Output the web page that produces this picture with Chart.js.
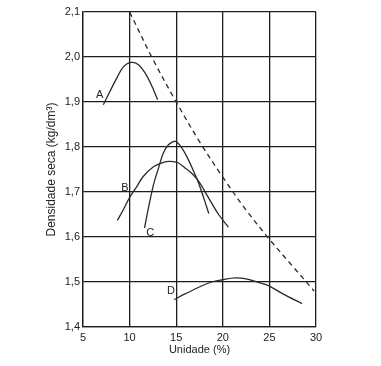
<!DOCTYPE html>
<html>
<head>
<meta charset="utf-8">
<script src="https://cdn.jsdelivr.net/npm/chart.js@4"></script>
<style>
html,body{margin:0;padding:0;background:#fff;}
canvas{display:block;}
</style>
</head>
<body>
<canvas id="c" width="381" height="366"></canvas>
<script>
// Tick values / labels
const xTicks = [5, 10, 15, 20, 25, 30];
const yTicks = [1.4, 1.5, 1.6, 1.7, 1.8, 1.9, 2.0, 2.1];
const yTickLabels = ['1,4', '1,5', '1,6', '1,7', '1,8', '1,9', '2,0', '2,1'];

// Curve A
const curveAx = [7.18, 7.9, 8.62, 9.33, 10.16, 10.95, 11.67, 12.4, 13.0];
const curveAy = [1.894, 1.924, 1.953, 1.978, 1.988, 1.983, 1.964, 1.935, 1.905];
// Curve B
const curveBx = [8.69, 9.34, 9.98, 10.77, 11.48, 12.56, 13.63, 14.4, 15.2, 15.97, 16.69, 17.4, 18.47, 19.55, 20.6];
const curveBy = [1.637, 1.661, 1.687, 1.712, 1.735, 1.756, 1.766, 1.768, 1.765, 1.753, 1.741, 1.724, 1.687, 1.650, 1.622];
// Curve C
const curveCx = [11.6, 12.02, 12.56, 13.1, 13.63, 14.17, 14.7, 15.0, 15.6, 16.3, 17.04, 17.4, 17.95, 18.5];
const curveCy = [1.620, 1.664, 1.716, 1.753, 1.787, 1.805, 1.812, 1.812, 1.798, 1.772, 1.738, 1.720, 1.687, 1.652];
// Curve D
const curveDx = [14.8, 16.0, 17.6, 18.8, 20.0, 21.3, 22.5, 24.0, 24.9, 26.5, 28.5];
const curveDy = [1.461, 1.474, 1.490, 1.500, 1.505, 1.509, 1.507, 1.498, 1.492, 1.473, 1.452];
// Dashed saturation line
const dashX = [10.0, 12.5, 15.0, 17.5, 20.0, 22.5, 25.0, 27.5, 29.8];
const dashY = [2.100, 1.995, 1.900, 1.812, 1.733, 1.660, 1.595, 1.535, 1.480];

// Curve labels
const labelText = ['A', 'B', 'C', 'D'];
const labelX = [6.8, 9.5, 12.2, 14.45];
const labelY = [1.916, 1.710, 1.609, 1.481];

function pts(xs, ys) { return xs.map((x, i) => ({x: x, y: ys[i]})); }

const lineCol = '#2a2a2a';
function curve(xs, ys) {
  return {
    data: pts(xs, ys), showLine: true, pointRadius: 0, borderColor: lineCol,
    borderWidth: 1.3, tension: 0.35, fill: false
  };
}

const labelPlugin = {
  id: 'curveLabels',
  afterDatasetsDraw(chart) {
    const ctx = chart.ctx, xs = chart.scales.x, ys = chart.scales.y;
    ctx.save();
    ctx.font = '11px "Liberation Sans", Arial, sans-serif';
    ctx.fillStyle = '#222';
    ctx.textAlign = 'center';
    ctx.textBaseline = 'middle';
    labelText.forEach((t, i) => {
      ctx.fillText(t, xs.getPixelForValue(labelX[i]), ys.getPixelForValue(labelY[i]));
    });
    ctx.restore();
  }
};

const gridCol = '#1e1e1e';
const fam = '"Liberation Sans", Arial, sans-serif';
new Chart(document.getElementById('c'), {
  type: 'scatter',
  data: {
    datasets: [
      curve(curveAx, curveAy),
      curve(curveBx, curveBy),
      curve(curveCx, curveCy),
      curve(curveDx, curveDy),
      Object.assign(curve(dashX, dashY), {borderDash: [5, 4], borderWidth: 1.3})
    ]
  },
  options: {
    responsive: false,
    animation: false,
    events: [],
    layout: {padding: {top: 12, right: 65, left: 0, bottom: 0}},
    plugins: {legend: {display: false}, tooltip: {enabled: false}},
    scales: {
      x: {
        type: 'linear', min: 5, max: 30,
        afterBuildTicks: s => { s.ticks = xTicks.map(v => ({value: v})); },
        afterFit: s => { s.height = 39; },
        grid: {color: gridCol, lineWidth: 1.3, drawTicks: false, tickLength: 0},
        border: {display: true, color: gridCol, width: 1.3},
        ticks: {padding: 4, color: '#222', font: {family: fam, size: 11}, callback: v => String(v)},
        title: {display: true, text: 'Unidade (%)', color: '#222',
          font: {family: fam, size: 11}, padding: {top: 0, bottom: 9}}
      },
      y: {
        type: 'linear', min: 1.4, max: 2.1,
        afterBuildTicks: s => { s.ticks = yTicks.map(v => ({value: v})); },
        afterFit: s => { s.width = 83; },
        grid: {color: gridCol, lineWidth: 1.3, drawTicks: false, tickLength: 0},
        border: {display: true, color: gridCol, width: 1.3},
        ticks: {padding: 3, color: '#222', font: {family: fam, size: 11},
          callback: (v) => { const i = yTicks.findIndex(t => Math.abs(t - v) < 1e-6); return i >= 0 ? yTickLabels[i] : ''; }},
        title: {display: true, text: 'Densidade seca (kg/dm³)', color: '#222',
          font: {family: fam, size: 12}, padding: {top: 44, bottom: 0}}
      }
    }
  },
  plugins: [labelPlugin]
});
</script>
</body>
</html>
